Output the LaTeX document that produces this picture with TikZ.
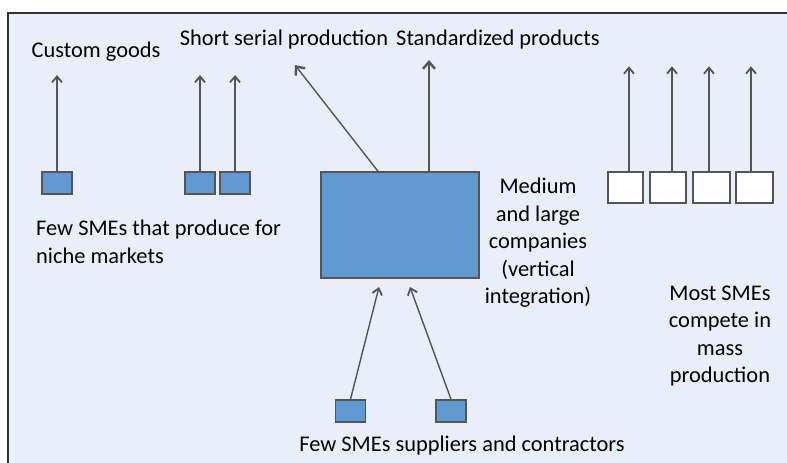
\documentclass[tikz,border=0pt]{standalone}
\usepackage{fontspec}
\setmainfont{Carlito}
\usepackage{tikz}
\usetikzlibrary{arrows.meta}
\usetikzlibrary{calc}

\definecolor{bgpaper}{HTML}{EAEEF8}
\definecolor{boxblue}{HTML}{6199D3}
\definecolor{lineGray}{HTML}{555555}

\tikzset{
    smebox/.style={draw=lineGray, line width=1.4pt, fill=boxblue, minimum width=30pt, minimum height=22pt, inner sep=0pt},
    massbox/.style={draw=lineGray, line width=1.4pt, fill=white, minimum width=35pt, minimum height=31pt, inner sep=0pt},
    flow/.style={draw=lineGray, line width=1.4pt, -{Straight Barb[length=6pt,width=10pt,line width=1.8pt]}},
    bigflow/.style={flow, -{Straight Barb[length=7pt,width=12pt,line width=2.4pt]}},
    label/.style={inner sep=0pt, text=black, font=\fontsize{22.4}{27.5}\selectfont}
}

\begin{document}
\begin{tikzpicture}[x=1pt, y=-1pt]
        \useasboundingbox (0, 0) rectangle (787, 463);

        % The frame
        \fill[bgpaper] (8, 13) rectangle (787, 463);
        \draw[black!80, line width=1.6pt] (8, 463) -- (8, 13) -- (787, 13);

        % The boxes
        \node[smebox] (custom) at (57, 183) {};
        \node[smebox] (nicheA) at (200, 183) {};
        \node[smebox] (nicheB) at (235, 183) {};
        \node[smebox, minimum width=158pt, minimum height=106pt] (firm) at (400, 225) {};
        \node[massbox] (massA) at (625.5, 187.5) {};
        \node[massbox, minimum width=36pt] (massB) at (668, 187.5) {};
        \node[massbox, minimum width=37pt] (massC) at (711.5, 187.5) {};
        \node[massbox, minimum width=37pt] (massD) at (754.5, 187.5) {};
        \node[smebox] (supplyA) at (350.5, 411) {};
        \node[smebox] (supplyB) at (451, 411) {};

        % The ends of the arrows
        \coordinate (customEnd) at (57, 75);
        \coordinate (nicheAEnd) at (200, 75);
        \coordinate (nicheBEnd) at (235, 75);
        \coordinate (serialEnd) at (295, 65);
        \coordinate (standardEnd) at (429, 60);
        \coordinate (supplyAEnd) at (379, 287);
        \coordinate (supplyBEnd) at (410, 287);

        % The arrows
        \draw[flow] (custom.north) -- (customEnd);
        \draw[flow] (nicheA.north) -- (nicheAEnd);
        \draw[flow] (nicheB.north) -- (nicheBEnd);
        \draw[bigflow] ([xshift=-22pt]firm.north) -- (serialEnd);
        \draw[bigflow] ([xshift=29pt]firm.north) -- (standardEnd);
        \draw[flow] ([xshift=3.5pt]massA.north) -- ++(0, -105);
        \draw[flow] ([xshift=4pt]massB.north) -- ++(0, -105);
        \draw[flow] ([xshift=-2.5pt]massC.north) -- ++(0, -105);
        \draw[flow] ([xshift=-3.5pt]massD.north) -- ++(0, -105);
        \draw[flow] (supplyA.north) -- (supplyAEnd);
        \draw[flow] (supplyB.north) -- (supplyBEnd);

        % The labels
        \node[label] (customText) at (96, 52) {Custom goods};
        \node[label] (serialText) at (284, 40) {Short serial production};
        \node[label] (standardText) at (498, 40) {Standardized products};
        \node[label, anchor=west, align=left] (nicheText) at (36, 242) {Few SMEs that produce for\\niche markets};
        \node[label, align=center] (firmText) at (538, 243) {Medium\\and large\\companies\\(vertical\\integration)};
        \node[label, align=center] (massText) at (720, 336) {Most SMEs\\compete in\\mass\\production};
        \node[label] (supplyText) at (462, 446) {Few SMEs suppliers and contractors};
    \end{tikzpicture}
\end{document}
